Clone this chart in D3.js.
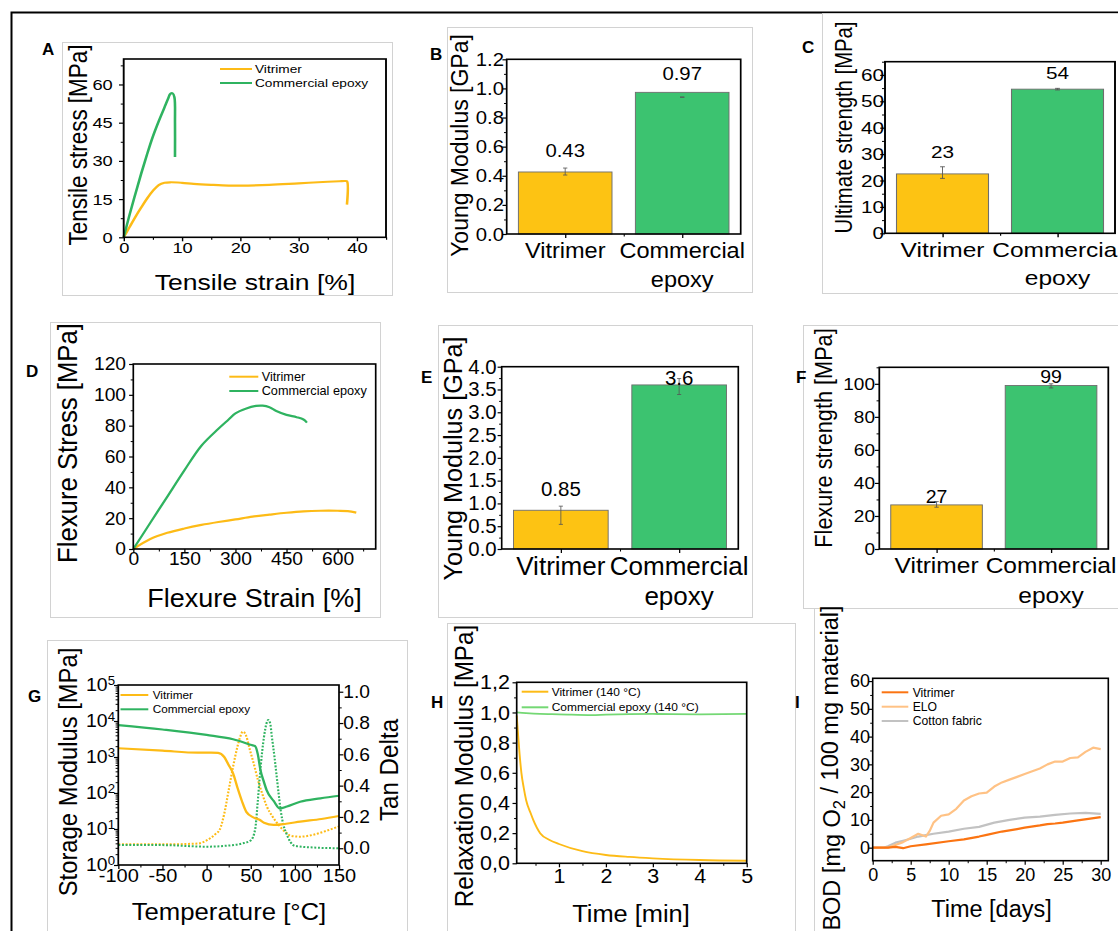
<!DOCTYPE html>
<html>
<head>
<meta charset="utf-8">
<script src="https://cdn.jsdelivr.net/npm/d3@7"></script>
<style>
  body { margin: 0; background: #fff; }
  svg { display: block; }
</style>
</head>
<body>
<svg id="fig" width="1118" height="931"></svg>
<script>
// ---------- data ----------
// A: tensile curves
var aVitStrain = [0, 1, 2, 3, 4, 5, 6, 7, 8, 10, 12, 15, 18, 20, 25, 30, 35, 37, 38, 38.3, 38.3];
var aVitStress = [0, 4, 8, 11.7, 15.2, 18.2, 20.5, 21.4, 21.6, 21.4, 21, 20.6, 20.3, 20.3, 20.6, 21.2, 21.8, 22, 22.1, 22, 12.8];
var aEpoStrain = [0, 1, 2, 3, 4, 5, 6, 7, 7.6, 8.0, 8.4, 8.7, 8.8, 8.8];
var aEpoStress = [0, 8.8, 17, 25, 32.5, 39.5, 45.5, 51, 54.3, 56.3, 56.5, 55, 45, 31.5];

// bar categories (second one on two lines)
var categories = [["Vitrimer"], ["Commercial", "epoxy"]];

// B: tensile Young modulus [GPa]
var bValues = [0.426, 0.973], bLabels = ["0.43", "0.97"];
var bErrLo = [0.405, 0.94], bErrHi = [0.453, 0.94];
// C: ultimate strength [MPa]
var cValues = [22.5, 54.6], cLabels = ["23", "54"];
var cErrLo = [20.8, 54.3], cErrHi = [25.2, 54.9];
// E: flexural Young modulus [GPa]
var eValues = [0.85, 3.6], eLabels = ["0.85", "3.6"];
var eErrLo = [0.54, 3.39], eErrHi = [0.94, 3.74];
// F: flexure strength [MPa]
var fValues = [26.7, 99], fLabels = ["27", "99"];
var fErrLo = [25.3, 97.5], fErrHi = [28.7, 100];

// D: flexure curves
var dVitStrain = [0, 50, 100, 150, 200, 250, 300, 350, 400, 450, 500, 550, 600, 630, 655];
var dVitStress = [0, 6.5, 10.5, 13.3, 15.6, 17.5, 19.2, 21, 22.3, 23.5, 24.4, 24.8, 24.8, 24.6, 23.6];
var dEpoStrain = [0, 50, 100, 150, 200, 250, 280, 300, 330, 360, 380, 400, 420, 450, 480, 500, 510];
var dEpoStress = [0, 17, 34, 51, 67, 78, 84, 88, 91, 92.8, 93, 92, 89.5, 87, 85.5, 84, 82];

// G: DMA, storage modulus (solid) and tan delta (dotted)
var gVitT = [-100, -50, -10, 5, 13, 20, 25, 30, 35, 40, 45, 53, 60, 65, 76, 90, 106, 130, 150];
var gVitE = [1750, 1500, 1320, 1320, 1300, 1000, 600, 350, 140, 60, 30, 21, 18, 15, 13, 14, 16, 19, 23];
var gEpoT = [-100, -50, 0, 30, 51, 55, 58, 61, 65, 68, 76, 83, 91, 106, 129, 150];
var gEpoE = [7700, 5800, 4100, 3100, 2150, 2000, 1200, 440, 200, 120, 60, 37, 42, 57, 71, 84];
var gVitTanT = [-100, -50, -10, 0, 10, 15, 20, 25, 30, 35, 38, 41, 44, 49, 53, 58, 63, 68, 75, 83, 90, 95, 106, 120, 135, 150];
var gVitTan = [0.025, 0.025, 0.03, 0.05, 0.09, 0.12, 0.22, 0.37, 0.52, 0.65, 0.71, 0.745, 0.73, 0.63, 0.55, 0.44, 0.35, 0.27, 0.2, 0.14, 0.1, 0.08, 0.074, 0.085, 0.11, 0.14];
var gEpoTanT = [-100, -50, 0, 20, 40, 50, 55, 58, 60, 63, 65, 68, 70, 72, 74, 77, 79, 82, 84, 87, 90, 95, 100, 120, 150];
var gEpoTan = [0.02, 0.02, 0.01, 0.015, 0.03, 0.05, 0.12, 0.3, 0.44, 0.62, 0.71, 0.8, 0.82, 0.8, 0.71, 0.58, 0.48, 0.33, 0.24, 0.15, 0.1, 0.04, 0.015, 0.005, 0.0];

// H: stress relaxation at 140 °C
var hVitTime = [0.1, 0.13, 0.16, 0.2, 0.25, 0.3, 0.4, 0.45, 0.6, 0.8, 1, 1.5, 2, 2.5, 3, 4, 5];
var hVitMod = [0.98, 0.85, 0.73, 0.6, 0.5, 0.42, 0.33, 0.29, 0.2, 0.155, 0.128, 0.08, 0.055, 0.042, 0.033, 0.022, 0.017];
var hEpoTime = [0.1, 0.3, 0.6, 1, 1.7, 2, 3, 4, 5];
var hEpoMod = [1.0, 0.995, 0.99, 0.988, 0.983, 0.986, 0.99, 0.988, 0.99];

// I: biodegradation (BOD)
var iVitDays = [0, 2, 3, 4, 5, 7, 10, 12, 14, 15, 17, 19, 20, 22, 23, 24, 25, 27, 30];
var iVit = [0, 0, 0.3, -0.2, 0.5, 1.2, 2.3, 3, 4, 4.6, 5.8, 6.7, 7.2, 8, 8.5, 8.7, 9, 9.8, 11];
var iEloDays = [0, 2, 3, 4, 5, 6, 7, 7.5, 8, 9, 10, 11, 12, 13, 14, 15, 16, 17, 18, 19, 20, 21, 22, 23, 24, 25, 26, 27, 28, 29, 30];
var iElo = [0, 0, 1, 2, 3.5, 5, 4, 6, 9, 11.5, 12, 14, 17, 18.5, 19.5, 19.8, 22, 23.5, 24.5, 25.5, 26.5, 27.5, 28.5, 30, 31, 31, 32.3, 32.5, 34.5, 36, 35.5];
var iCotDays = [0, 1.5, 2, 3, 4, 5, 6, 7, 8, 10, 12, 14, 16, 18, 20, 22, 24, 26, 28, 30];
var iCot = [0, 0, 0.5, 1.8, 2.5, 3.2, 4, 4.5, 5, 5.8, 6.8, 7.5, 9, 10, 10.8, 11.2, 11.8, 12.3, 12.5, 12.2];

// ---------- colours ----------
var YEL = "#fdbb16", GRN = "#2fb360";
var barColors = ["#fdc313", "#3cc370"];

var FONT = "'Liberation Sans', Arial, Helvetica, sans-serif";
var svg = d3.select("#fig").attr("font-family", FONT);

// outer frame
svg.append("rect").attr("x", 11.5).attr("y", 12.5).attr("width", 1300).attr("height", 1100)
    .attr("fill", "none").attr("stroke", "#000").attr("stroke-width", 2);

// light grey boxes round each pasted panel
var boxes = [[62, 42, 392, 295], [447, 27, 752, 292], [822, 13, 1130, 293],
             [50, 322, 380, 617], [438, 325, 752, 617], [803, 325, 1130, 608],
             [47, 640, 407, 945], [447, 623, 795, 945], [814, 608, 1130, 945]];
boxes.forEach(function (b) {
    svg.append("rect").attr("x", b[0] + 0.5).attr("y", b[1] + 0.5)
        .attr("width", b[2] - b[0]).attr("height", b[3] - b[1])
        .attr("fill", "#fff").attr("stroke", "#d2d2d2").attr("stroke-width", 1);
});

// ---------- helpers ----------
// each panel is drawn in its own group, stretched a bit horizontally like the pasted images
function makePanel(plot, sx) {
    var g = svg.append("g")
        .attr("transform", "translate(" + plot[0] + "," + plot[1] + ") scale(" + sx + ",1)");
    return {
        g: g, sx: sx,
        w: (plot[2] - plot[0]) / sx,
        h: plot[3] - plot[1],
        X: function (v) { return (v - plot[0]) / sx; },
        Y: function (v) { return v - plot[1]; }
    };
}

function addAxis(P, side, scale, ticks, minor, font, gap, fmt) {
    var gen = side == "left" ? d3.axisLeft : side == "right" ? d3.axisRight : d3.axisBottom;
    var pad = (side == "bottom" ? gap : gap / P.sx) - 4;
    var ax = gen(scale).tickValues(ticks).tickSizeInner(4).tickSizeOuter(0).tickPadding(pad);
    ax.tickFormat(fmt || function (d) { return String(d); });
    var tr = side == "right" ? "translate(" + P.w + ",0)" : side == "bottom" ? "translate(0," + P.h + ")" : null;
    var ga = P.g.append("g").attr("transform", tr).call(ax);
    ga.attr("font-family", FONT).attr("font-size", font);
    ga.select(".domain").remove();
    ga.selectAll("line").attr("stroke", "#000").attr("stroke-width", 1.2);
    if (minor) {
        var gm = P.g.append("g").attr("transform", tr)
            .call(gen(scale).tickValues(minor).tickSize(2.5).tickFormat(""));
        gm.select(".domain").remove();
        gm.selectAll("line").attr("stroke", "#000").attr("stroke-width", 1);
    }
    return ga;
}

function frame(P) {
    P.g.append("rect").attr("width", P.w).attr("height", P.h)
        .attr("fill", "none").attr("stroke", "#000").attr("stroke-width", 1.6);
}

function yTitle(P, txt, bx, cy, size) {
    return P.g.append("text")
        .attr("transform", "translate(" + P.X(bx) + "," + P.Y(cy) + ") rotate(-90)")
        .attr("text-anchor", "middle").attr("font-size", size).text(txt);
}

function xTitle(P, txt, cx, by, size) {
    P.g.append("text").attr("x", P.X(cx)).attr("y", P.Y(by))
        .attr("text-anchor", "middle").attr("font-size", size).text(txt);
}

function series(P, x, y, xs, ys, color, width, dash, curve) {
    var line = d3.line()
        .x(function (d) { return x(d[0]); })
        .y(function (d) { return y(d[1]); })
        .curve(curve || d3.curveLinear);
    P.g.append("path").datum(d3.zip(xs, ys)).attr("d", line)
        .attr("fill", "none").attr("stroke", color).attr("stroke-width", width)
        .attr("stroke-dasharray", dash || null).attr("stroke-linejoin", "round");
}

function legend(P, items, x0, x1, xt, ys, font) {
    items.forEach(function (it, i) {
        P.g.append("line").attr("x1", P.X(x0)).attr("x2", P.X(x1))
            .attr("y1", P.Y(ys[i])).attr("y2", P.Y(ys[i]))
            .attr("stroke", it[1]).attr("stroke-width", 2);
        P.g.append("text").attr("x", P.X(xt)).attr("y", P.Y(ys[i])).attr("dy", "0.35em")
            .attr("font-size", font).text(it[0]);
    });
}

function letter(t, x, y) {
    svg.append("text").attr("x", x).attr("y", y).attr("font-size", 17)
        .attr("font-weight", "bold").text(t);
}

function barPanel(c) {
    var P = makePanel(c.plot, c.sx);
    var x = d3.scaleLinear().domain([0.5, 2.5]).range([0, P.w]);
    var y = d3.scaleLinear().domain([0, c.yMax]).range([P.h, 0]);

    P.g.selectAll("rect.bar").data(c.values).enter().append("rect")
        .attr("class", "bar")
        .attr("x", function (d, i) { return x(i + 0.6); })
        .attr("width", x(1.4) - x(0.6))
        .attr("y", function (d) { return y(d); })
        .attr("height", function (d) { return P.h - y(d); })
        .attr("fill", function (d, i) { return barColors[i]; })
        .attr("stroke", "#6e6e6e").attr("stroke-width", 0.9);

    // error bars
    c.values.forEach(function (v, i) {
        var cx = x(i + 1), lo = y(c.errLo[i]), hi = y(c.errHi[i]);
        P.g.append("line").attr("x1", cx).attr("x2", cx).attr("y1", lo).attr("y2", hi)
            .attr("stroke", "#555").attr("stroke-width", 0.8);
        [lo, hi].forEach(function (yy) {
            P.g.append("line").attr("x1", cx - 2).attr("x2", cx + 2).attr("y1", yy).attr("y2", yy)
                .attr("stroke", "#555").attr("stroke-width", 0.8);
        });
    });

    // value labels above the bars
    P.g.selectAll("text.val").data(c.labels).enter().append("text")
        .attr("x", function (d, i) { return x(i + 1); })
        .attr("y", function (d, i) { return y(c.values[i]) - c.labelOff[i]; })
        .attr("text-anchor", "middle").attr("font-size", c.valFont).text(function (d) { return d; });

    // category labels
    categories.forEach(function (lines, i) {
        lines.forEach(function (s, k) {
            P.g.append("text").attr("x", x(i + 1)).attr("y", P.h + c.catBase[k])
                .attr("text-anchor", "middle").attr("font-size", c.catFont).text(s);
        });
    });

    addAxis(P, "left", y, c.yTicks, c.yMinor, c.tickFont, c.yGap, c.yFmt);
    addAxis(P, "bottom", x, [1, 2], [1.5], c.tickFont, 4, function () { return ""; });
    frame(P);
    yTitle(P, c.title, c.titleX, c.titleY, c.titleFont);
}

function range(a, b, s) { return d3.range(a, b + s / 2, s); }

// ---------- A ----------
(function () {
    var P = makePanel([123.7, 59, 386, 237.3], 1.18);
    var x = d3.scaleLinear().domain([0, 45]).range([0, P.w]);
    var y = d3.scaleLinear().domain([0, 70]).range([P.h, 0]);
    series(P, x, y, aVitStrain, aVitStress, YEL, 2.2, null, d3.curveCatmullRom);
    series(P, x, y, aEpoStrain, aEpoStress, GRN, 2.2, null, d3.curveCatmullRom);
    addAxis(P, "left", y, range(0, 60, 15), range(7.5, 67.5, 15), 15.5, 11);
    addAxis(P, "bottom", x, range(0, 40, 10), range(5, 45, 10), 15.5, 5);
    frame(P);
    legend(P, [["Vitrimer", YEL], ["Commercial epoxy", GRN]], 220, 252, 255, [69, 83], 11.6);
    yTitle(P, "Tensile stress [MPa]", 87, 145, 22.5);
    xTitle(P, "Tensile strain [%]", 255, 290, 22.5);
})();
letter("A", 42, 55);

// ---------- B ----------
barPanel({
    plot: [506.7, 59.3, 740.7, 234], sx: 1.07, yMax: 1.2,
    values: bValues, labels: bLabels, errLo: bErrLo, errHi: bErrHi,
    labelOff: [15, 12], valFont: 19, catFont: 22, catBase: [24, 53],
    yTicks: range(0, 1.2, 0.2), yMinor: range(0.1, 1.1, 0.2), yFmt: d3.format(".1f"),
    tickFont: 19, yGap: 2.7,
    title: "Young Modulus [GPa]", titleX: 468, titleY: 145.5, titleFont: 23
});
letter("B", 430, 60);

// ---------- C ----------
barPanel({
    plot: [885, 61.7, 1115, 233.3], sx: 1.2, yMax: 65,
    values: cValues, labels: cLabels, errLo: cErrLo, errHi: cErrHi,
    labelOff: [16, 10], valFont: 17.3, catFont: 20.4, catBase: [23.4, 51.7],
    yTicks: range(0, 60, 10), yMinor: range(5, 65, 10), yFmt: d3.format("d"),
    tickFont: 17.3, yGap: 1,
    title: "Ultimate strength [MPa]", titleX: 851.7, titleY: 127.5, titleFont: 20.3
});
letter("C", 802, 53);

// ---------- D ----------
(function () {
    var P = makePanel([133.3, 364, 375.7, 549], 1.05);
    var x = d3.scaleLinear().domain([0, 712]).range([0, P.w]);
    var y = d3.scaleLinear().domain([0, 120]).range([P.h, 0]);
    series(P, x, y, dVitStrain, dVitStress, YEL, 2.2, null, d3.curveCatmullRom);
    series(P, x, y, dEpoStrain, dEpoStress, GRN, 2.2, null, d3.curveCatmullRom);
    addAxis(P, "left", y, range(0, 120, 20), range(10, 110, 20), 18.3, 7.3);
    addAxis(P, "bottom", x, range(0, 600, 150), range(75, 675, 150), 18.3, 2.7);
    frame(P);
    legend(P, [["Vitrimer", YEL], ["Commercial epoxy", GRN]], 229.3, 258.3, 261.7, [376.7, 391], 12.1);
    yTitle(P, "Flexure Stress [MPa]", 77, 443, 25.7);
    xTitle(P, "Flexure Strain [%]", 254.5, 606.7, 25.7);
})();
letter("D", 26, 377);

// ---------- E ----------
barPanel({
    plot: [501.7, 366.7, 738.3, 549], sx: 1.03, yMax: 4,
    values: eValues, labels: eLabels, errLo: eErrLo, errHi: eErrHi,
    labelOff: [14, 0], valFont: 19.9, catFont: 25.3, catBase: [26, 56],
    yTicks: range(0, 4, 0.5), yMinor: range(0.25, 3.75, 0.5), yFmt: d3.format(".1f"),
    tickFont: 19.8, yGap: 5,
    title: "Young Modulus [GPa]", titleX: 461.7, titleY: 458.5, titleFont: 25.2
});
letter("E", 421, 383);

// ---------- F ----------
barPanel({
    plot: [879.3, 367.3, 1108.3, 549], sx: 1.1, yMax: 110,
    values: fValues, labels: fLabels, errLo: fErrLo, errHi: fErrHi,
    labelOff: [2, 2], valFont: 17.7, catFont: 22.3, catBase: [24, 54],
    yTicks: range(0, 100, 20), yMinor: range(10, 110, 20), yFmt: d3.format("d"),
    tickFont: 17.3, yGap: 4.3,
    title: "Flexure strength [MPa]", titleX: 832, titleY: 438, titleFont: 21.7
});
letter("F", 796, 383);

// ---------- G ----------
(function () {
    var P = makePanel([118.3, 685, 339, 865], 1.08);
    var x = d3.scaleLinear().domain([-100, 150]).range([0, P.w]);
    var yL = d3.scaleLog().domain([1, 1e5]).range([P.h, 0]);
    var yR = d3.scaleLinear().domain([-0.107, 1.043]).range([P.h, 0]);
    series(P, x, yR, gVitTanT, gVitTan, YEL, 2, "1.8,1.6", d3.curveMonotoneX);
    series(P, x, yR, gEpoTanT, gEpoTan, GRN, 2, "1.8,1.6", d3.curveMonotoneX);
    series(P, x, yL, gVitT, gVitE, YEL, 2.2, null, d3.curveMonotoneX);
    series(P, x, yL, gEpoT, gEpoE, GRN, 2.2, null, d3.curveMonotoneX);

    var decades = [1, 10, 100, 1000, 10000, 100000];
    var logMinor = [];
    decades.slice(0, 5).forEach(function (d) { for (var k = 2; k < 10; k++) logMinor.push(d * k); });
    var gl = addAxis(P, "left", yL, decades, logMinor, 18, 3.3, function () { return ""; });
    gl.selectAll(".tick text").each(function (d) {
        var t = d3.select(this).text("10");
        t.append("tspan").attr("dy", "-0.55em").attr("font-size", "0.68em").text(Math.round(Math.log10(d)));
    });
    addAxis(P, "right", yR, range(0, 1, 0.2), range(0.1, 0.9, 0.2), 17.8, 4.3, d3.format(".1f"));
    addAxis(P, "bottom", x, range(-100, 150, 50), range(-75, 125, 50), 18.5, 3.5);
    frame(P);
    legend(P, [["Vitrimer", YEL], ["Commercial epoxy", GRN]], 120.5, 148.3, 152.7, [695, 709.3], 10.9);
    yTitle(P, "Storage Modulus [MPa]", 77, 772, 23.8);
    yTitle(P, "Tan Delta", 398, 770, 24.2);
    xTitle(P, "Temperature [°C]", 229, 920, 23.8);
})();
letter("G", 28, 702);

// ---------- H ----------
(function () {
    var P = makePanel([516.7, 682.3, 746.7, 863.3], 1.05);
    var x = d3.scaleLinear().domain([0.1, 5]).range([0, P.w]);
    var y = d3.scaleLinear().domain([0, 1.2]).range([P.h, 0]);
    series(P, x, y, hEpoTime, hEpoMod, "#74d874", 1.8, null, d3.curveMonotoneX);
    series(P, x, y, hVitTime, hVitMod, YEL, 1.8, null, d3.curveMonotoneX);
    addAxis(P, "left", y, range(0, 1.2, 0.2), range(0.1, 1.1, 0.2), 20.5, 6.7,
        function (d) { return d3.format(".1f")(d).replace(".", ","); });
    addAxis(P, "bottom", x, [1, 2, 3, 4, 5], [0.5, 1.5, 2.5, 3.5, 4.5], 20.5, 5, d3.format("d"));
    frame(P);
    legend(P, [["Vitrimer (140 °C)", YEL], ["Commercial epoxy (140 °C)", "#74d874"]],
        521.7, 548.3, 551.7, [691.7, 707.3], 11.4);
    yTitle(P, "Relaxation Modulus [MPa]", 473, 766, 24.2);
    xTitle(P, "Time [min]", 631, 921.7, 24.2);
})();
letter("H", 431, 708);

// ---------- I ----------
(function () {
    var P = makePanel([872.7, 678.3, 1108.3, 860.7], 1.0);
    var x = d3.scaleLinear().domain([0, 31]).range([0, P.w]);
    var y = d3.scaleLinear().domain([-4.7, 61]).range([P.h, 0]);
    series(P, x, y, iCotDays, iCot, "#c2c2c2", 2.2);
    series(P, x, y, iEloDays, iElo, "#ffc285", 2.2);
    series(P, x, y, iVitDays, iVit, "#fb7412", 2.2);
    addAxis(P, "left", y, range(0, 60, 10), range(5, 55, 10), 18, 2.7);
    addAxis(P, "bottom", x, range(0, 30, 5), range(2.5, 27.5, 5), 18, 7.6);
    frame(P);
    legend(P, [["Vitrimer", "#fb7412"], ["ELO", "#ffc285"], ["Cotton fabric", "#c2c2c2"]],
        881.7, 908.3, 912.7, [692.3, 706.7, 721], 12.2);
    var t = yTitle(P, "", 840, 768, 23.5);
    t.append("tspan").text("BOD [mg O");
    t.append("tspan").attr("dy", "0.3em").attr("font-size", "0.7em").text("2");
    t.append("tspan").attr("dy", "-0.3em").text(" / 100 mg material]");
    xTitle(P, "Time [days]", 991.5, 916.7, 23.5);
})();
letter("I", 795, 708);
</script>
</body>
</html>
